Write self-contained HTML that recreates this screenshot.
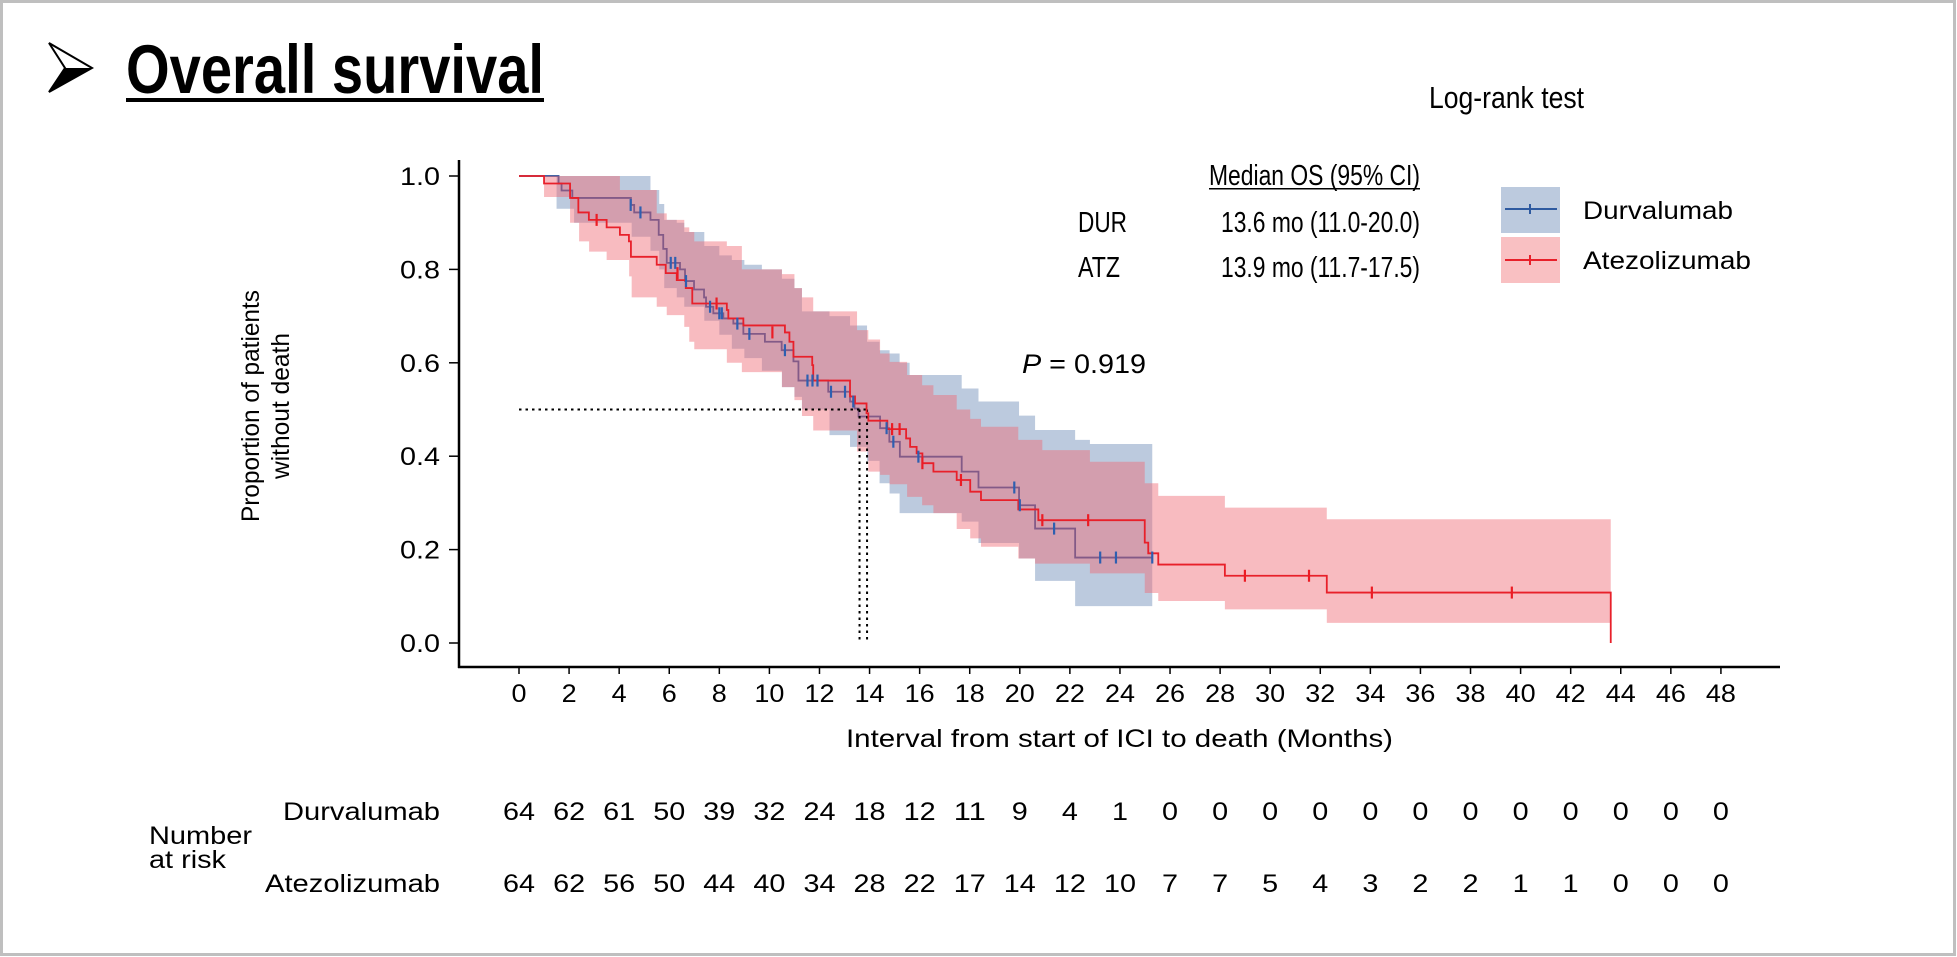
<!DOCTYPE html>
<html><head><meta charset="utf-8"><style>
html,body{margin:0;padding:0;background:#fff;}
svg{display:block;font-family:"Liberation Sans",Arial,sans-serif;}
</style></head>
<body>
<svg id="chart" width="1957" height="957" viewBox="0 0 1957 957" xmlns="http://www.w3.org/2000/svg">
<rect x="1.5" y="1.5" width="1953" height="953" fill="#fff" stroke="#bfbfbf" stroke-width="3"/>
<g>
<polygon points="49,43 92,68 49,92 65,68" fill="#fff" stroke="#000" stroke-width="2"/>
<polygon points="65,68 92,68 49,92" fill="#000"/>
</g>
<text x="126" y="93" font-size="69" font-weight="bold" textLength="418" lengthAdjust="spacingAndGlyphs">Overall survival</text>
<rect x="126" y="98" width="418" height="4" fill="#000"/>
<text x="1429" y="108" font-size="31" textLength="155" lengthAdjust="spacingAndGlyphs">Log-rank test</text>
<text x="1209" y="185" font-size="29" textLength="211" lengthAdjust="spacingAndGlyphs">Median OS (95% CI)</text>
<rect x="1209" y="188" width="211" height="1.5" fill="#000"/>
<text x="1078" y="232" font-size="29" textLength="49" lengthAdjust="spacingAndGlyphs">DUR</text>
<text x="1221" y="232" font-size="29" textLength="199" lengthAdjust="spacingAndGlyphs">13.6 mo (11.0-20.0)</text>
<text x="1078" y="277" font-size="29" textLength="42" lengthAdjust="spacingAndGlyphs">ATZ</text>
<text x="1221" y="277" font-size="29" textLength="199" lengthAdjust="spacingAndGlyphs">13.9 mo (11.7-17.5)</text>
<g>
<rect x="1501" y="187" width="59" height="46" fill="#bccade"/>
<line x1="1505" y1="209" x2="1557" y2="209" stroke="#2e5aa0" stroke-width="2"/>
<line x1="1530" y1="204" x2="1530" y2="214" stroke="#2e5aa0" stroke-width="2"/>
<text x="1583" y="219" font-size="25" textLength="150" lengthAdjust="spacingAndGlyphs">Durvalumab</text>
</g>
<g>
<rect x="1501" y="237" width="59" height="46" fill="#f9c0c2"/>
<line x1="1505" y1="260" x2="1557" y2="260" stroke="#e8202a" stroke-width="2"/>
<line x1="1530" y1="255" x2="1530" y2="265" stroke="#e8202a" stroke-width="2"/>
<text x="1583" y="269" font-size="25" textLength="168" lengthAdjust="spacingAndGlyphs">Atezolizumab</text>
</g>
<text x="1022" y="373" font-size="27" textLength="124" lengthAdjust="spacingAndGlyphs"><tspan font-style="italic">P</tspan> = 0.919</text>
<text transform="translate(259,406) rotate(-90)" text-anchor="middle" font-size="25" textLength="232" lengthAdjust="spacingAndGlyphs">Proportion of patients</text>
<text transform="translate(289,406) rotate(-90)" text-anchor="middle" font-size="25" textLength="146" lengthAdjust="spacingAndGlyphs">without death</text>
<text x="846" y="747" font-size="25" textLength="547" lengthAdjust="spacingAndGlyphs">Interval from start of ICI to death (Months)</text>
<text x="149" y="844" font-size="25" textLength="103" lengthAdjust="spacingAndGlyphs">Number</text>
<text x="149" y="868" font-size="25" textLength="77" lengthAdjust="spacingAndGlyphs">at risk</text>
<text x="440" y="820" font-size="25" text-anchor="end" textLength="157" lengthAdjust="spacingAndGlyphs">Durvalumab</text>
<text x="440" y="892" font-size="25" text-anchor="end" textLength="175" lengthAdjust="spacingAndGlyphs">Atezolizumab</text>
<g id="plot"></g>
</svg>
<script>
const xTicks = [0,2,4,6,8,10,12,14,16,18,20,22,24,26,28,30,32,34,36,38,40,42,44,46,48];
const yTicks = [0,0.2,0.4,0.6,0.8,1.0];
const durSteps = [[1.58,0.984],[1.7,0.969],[2.13,0.953],[4.47,0.938],[4.6,0.922],[5.25,0.906],[5.58,0.874],[5.76,0.844],[5.9,0.814],[6.43,0.8],[6.63,0.775],[6.99,0.757],[7.39,0.74],[7.47,0.72],[7.76,0.706],[8.16,0.695],[8.56,0.684],[8.96,0.662],[9.82,0.645],[10.49,0.627],[10.96,0.603],[11.16,0.562],[12.35,0.538],[13.22,0.517],[13.4,0.502],[13.56,0.485],[14.42,0.46],[14.79,0.431],[15.21,0.399],[17.68,0.367],[18.35,0.333],[19.97,0.295],[20.61,0.245],[22.21,0.183]];
const durEnd = 25.29;
const atzSteps = [[1.0,0.984],[2.04,0.953],[2.37,0.922],[2.79,0.906],[3.5,0.89],[4.03,0.874],[4.39,0.86],[4.47,0.827],[5.5,0.81],[5.86,0.792],[6.3,0.777],[6.66,0.76],[6.92,0.727],[8.3,0.713],[8.36,0.695],[8.96,0.68],[10.62,0.665],[10.8,0.645],[10.96,0.613],[11.71,0.595],[11.75,0.562],[13.22,0.528],[13.42,0.513],[13.88,0.492],[13.95,0.476],[14.71,0.458],[15.46,0.438],[15.62,0.42],[15.88,0.406],[16.11,0.385],[16.55,0.367],[17.48,0.349],[18.02,0.324],[18.45,0.306],[19.94,0.286],[20.74,0.263],[24.99,0.215],[25.13,0.192],[25.53,0.168],[28.19,0.144],[32.26,0.108],[43.6,0]];
const atzEnd = 43.6;
const durCensor = [[4.46,0.938],[4.85,0.922],[6.06,0.814],[6.24,0.814],[6.67,0.775],[7.63,0.72],[8.0,0.706],[8.1,0.706],[8.72,0.684],[9.2,0.662],[10.62,0.627],[11.52,0.562],[11.72,0.562],[11.92,0.562],[12.46,0.538],[13.02,0.538],[13.35,0.517],[14.68,0.46],[14.95,0.431],[15.95,0.399],[19.78,0.333],[20.0,0.295],[21.37,0.245],[23.21,0.183],[23.84,0.183],[25.29,0.183]];
const atzCensor = [[3.1,0.906],[6.33,0.792],[7.89,0.727],[10.12,0.665],[14.9,0.458],[15.2,0.458],[16.11,0.385],[17.65,0.349],[20.9,0.263],[22.73,0.263],[28.99,0.144],[31.55,0.144],[34.06,0.108],[39.65,0.108]];
const durBand = [[1.5,0.93,1.0],[2.2,0.90,1.0],[4.5,0.87,1.0],[5.25,0.84,0.97],[5.6,0.80,0.94],[5.8,0.76,0.906],[6.3,0.74,0.90],[6.6,0.72,0.88],[7.4,0.69,0.85],[8.0,0.66,0.83],[8.5,0.63,0.82],[9.0,0.61,0.81],[9.7,0.583,0.80],[10.5,0.548,0.78],[11.0,0.527,0.76],[11.3,0.50,0.71],[12.4,0.445,0.70],[13.22,0.42,0.68],[13.9,0.39,0.645],[14.4,0.342,0.627],[14.8,0.32,0.62],[15.2,0.278,0.60],[15.6,0.278,0.574],[17.68,0.26,0.545],[18.35,0.214,0.517],[19.97,0.181,0.487],[20.61,0.133,0.456],[22.21,0.079,0.435],[22.8,0.079,0.426]];
const atzBand = [[1.0,0.955,1.0],[2.04,0.90,1.0],[2.4,0.86,1.0],[2.8,0.838,1.0],[3.5,0.82,1.0],[4.03,0.82,0.97],[4.4,0.785,0.97],[4.5,0.74,0.97],[5.5,0.72,0.92],[5.9,0.702,0.906],[6.6,0.677,0.89],[6.8,0.645,0.88],[7.0,0.629,0.86],[8.3,0.60,0.85],[8.9,0.58,0.80],[10.5,0.548,0.79],[11.0,0.52,0.76],[11.3,0.486,0.74],[11.75,0.455,0.71],[13.5,0.41,0.67],[13.95,0.367,0.65],[14.42,0.36,0.62],[14.8,0.34,0.602],[15.5,0.313,0.574],[16.1,0.295,0.552],[16.55,0.278,0.531],[17.48,0.244,0.50],[18.02,0.224,0.48],[18.45,0.206,0.463],[19.94,0.181,0.435],[20.61,0.17,0.435],[20.9,0.17,0.413],[22.8,0.149,0.388],[24.99,0.107,0.342],[25.53,0.09,0.315],[28.19,0.072,0.29],[32.26,0.043,0.265]];
const medians = [13.6, 13.9];
const durRisk = [64,62,61,50,39,32,24,18,12,11,9,4,1,0,0,0,0,0,0,0,0,0,0,0,0];
const atzRisk = [64,62,56,50,44,40,34,28,22,17,14,12,10,7,7,5,4,3,2,2,1,1,0,0,0];

const NS = "http://www.w3.org/2000/svg";
const plot = document.getElementById('plot');
function xS(m){ return 519 + 25.04*m; }
function yS(p){ return 643 - 467*p; }
function mk(tag, attrs, parent){
  const e = document.createElementNS(NS, tag);
  for (const k in attrs) e.setAttribute(k, attrs[k]);
  (parent||plot).appendChild(e);
  return e;
}
function stepPath(steps, end){
  let d = 'M' + xS(0) + ' ' + yS(1);
  steps.forEach(s => { d += ' H' + xS(s[0]) + ' V' + yS(s[1]); });
  d += ' H' + xS(end);
  return d;
}
function bandPath(band, end){
  let d = 'M' + xS(band[0][0]) + ' ' + yS(band[0][2]);
  for (let i=0;i<band.length;i++){
    const nx = i+1<band.length ? band[i+1][0] : end;
    d += ' H' + xS(nx);
    if (i+1<band.length) d += ' V' + yS(band[i+1][2]);
  }
  d += ' V' + yS(band[band.length-1][1]);
  for (let i=band.length-1;i>=0;i--){
    d += ' H' + xS(band[i][0]);
    if (i>0) d += ' V' + yS(band[i-1][1]);
  }
  return d + ' Z';
}

const axes = mk('g', {});


mk('line', {x1:459, y1:160, x2:459, y2:668, stroke:'#000', 'stroke-width':2.5}, axes);
mk('line', {x1:458, y1:667, x2:1780, y2:667, stroke:'#000', 'stroke-width':2.5}, axes);
xTicks.forEach(t => {
  const x = xS(t);
  mk('line', {x1:x, y1:667, x2:x, y2:674, stroke:'#000', 'stroke-width':1.5}, axes);
  const lb = mk('text', {x:x, y:702, 'font-size':25, 'text-anchor':'middle', textLength:String(t).length*15, lengthAdjust:'spacingAndGlyphs'}, axes);
  lb.textContent = t;
  
  
});
yTicks.forEach(t => {
  const y = yS(t);
  mk('line', {x1:449, y1:y, x2:459, y2:y, stroke:'#000', 'stroke-width':1.5}, axes);
  const lb = mk('text', {x:440, y:y+9, 'font-size':25, 'text-anchor':'end', textLength:40, lengthAdjust:'spacingAndGlyphs'}, axes);
  lb.textContent = t.toFixed(1);
  
  
});

const bDur = mk('path', {d:bandPath(durBand, durEnd), fill:'#bccade'});


const lDur = mk('path', {d:stepPath(durSteps, durEnd), fill:'none', stroke:'#2a4f98', 'stroke-width':1.8});


const bAtz = mk('path', {d:bandPath(atzBand, atzEnd), fill:'rgba(240,105,115,0.45)'});



const med = mk('g', {stroke:'#000', 'stroke-width':2, 'stroke-dasharray':'2.5 4', fill:'none'});


mk('line', {x1:xS(0), y1:yS(0.5), x2:xS(Math.max(...medians)), y2:yS(0.5)}, med);
medians.forEach(m => { mk('line', {x1:xS(m), y1:yS(0.5), x2:xS(m), y2:yS(0)}, med); });

const lAtz = mk('path', {d:stepPath(atzSteps, atzEnd), fill:'none', stroke:'#e8202a', 'stroke-width':1.8});



durCensor.forEach(c => {
  const l = mk('line', {x1:xS(c[0]), y1:yS(c[1])-6, x2:xS(c[0]), y2:yS(c[1])+6, stroke:'#2e5fb0', 'stroke-width':2.2});
  
  
});
atzCensor.forEach(c => {
  const l = mk('line', {x1:xS(c[0]), y1:yS(c[1])-6, x2:xS(c[0]), y2:yS(c[1])+6, stroke:'#ec1c24', 'stroke-width':2.2});
  
  
});

durRisk.forEach((v,i) => {
  const t = mk('text', {x:xS(xTicks[i]), y:820, 'font-size':25, 'text-anchor':'middle', textLength:String(v).length*16, lengthAdjust:'spacingAndGlyphs'});
  t.textContent = v;
  
  
});
atzRisk.forEach((v,i) => {
  const t = mk('text', {x:xS(xTicks[i]), y:892, 'font-size':25, 'text-anchor':'middle', textLength:String(v).length*16, lengthAdjust:'spacingAndGlyphs'});
  t.textContent = v;
  
  
});
</script>
</body></html>
